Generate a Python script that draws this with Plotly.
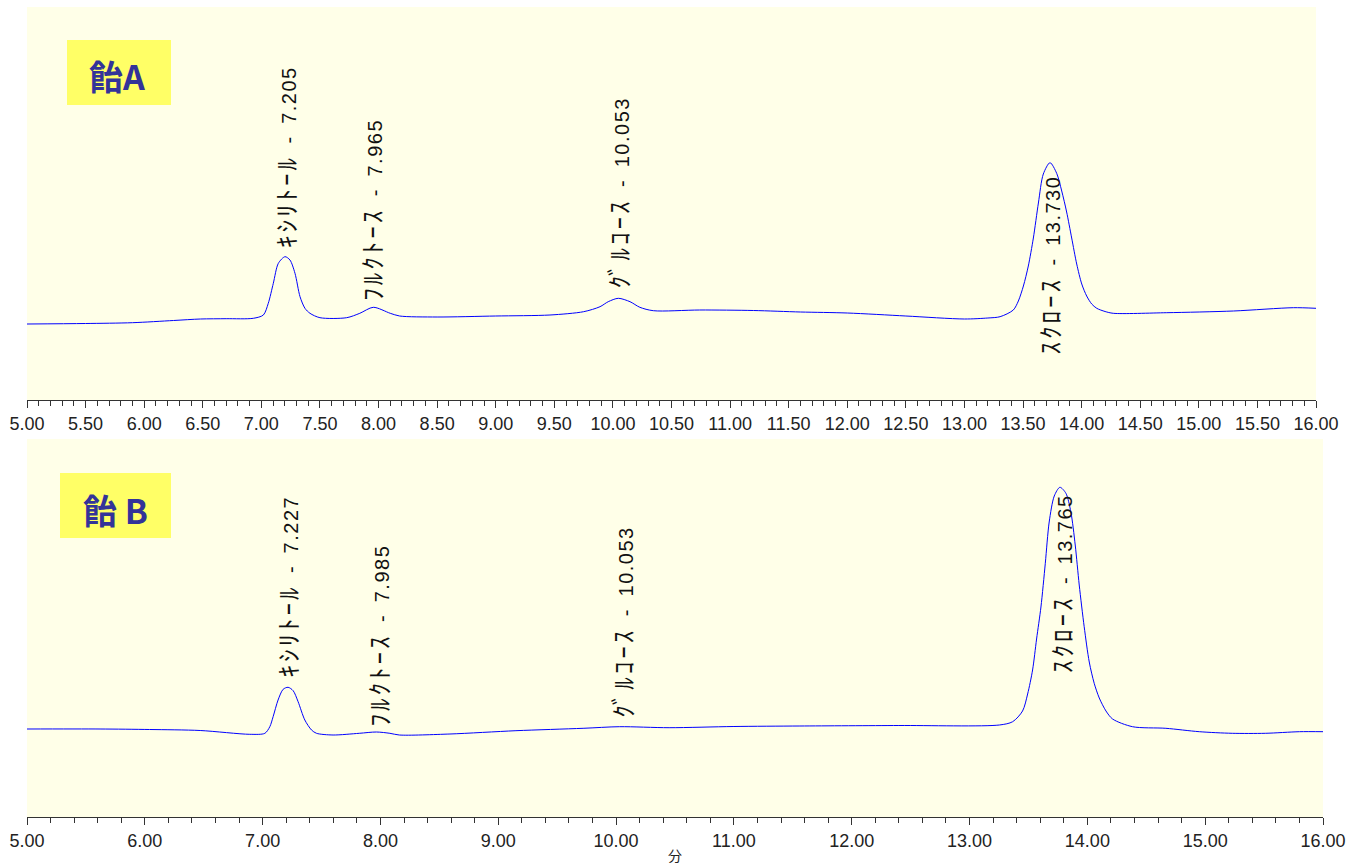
import plotly.graph_objects as go

# ---------------- data ----------------
# Chromatogram A: retention time (min) and detector signal (arbitrary units)
time_A = [5.00, 5.50, 5.90, 6.25, 6.48, 6.70, 6.931, 7.017, 7.059, 7.102, 7.145, 7.202,
          7.244, 7.287, 7.330, 7.372, 7.415, 7.50, 7.728, 7.84, 7.955, 8.10, 8.18,
          8.50, 9.00, 9.463, 9.75, 9.89, 9.96, 10.046, 10.146, 10.23, 10.345,
          10.74, 11.20, 11.60, 12.00, 12.50, 13.00, 13.20, 13.304, 13.417, 13.46,
          13.503, 13.545, 13.588, 13.631, 13.673, 13.730, 13.787, 13.830, 13.872,
          13.915, 13.958, 14.001, 14.043, 14.086, 14.129, 14.20, 14.27, 14.726,
          15.295, 15.807, 16.00]
signal_A = [76.0, 76.5, 77.3, 79.5, 81.0, 81.3, 81.7, 85.0, 96.7, 116.7, 136.7, 143.3,
            140.0, 126.7, 103.3, 91.7, 86.7, 82.3, 82.3, 86.7, 92.7, 86.7, 84.0,
            83.0, 84.0, 85.0, 88.3, 93.3, 98.3, 101.7, 98.3, 92.7, 89.3,
            90.0, 89.5, 88.0, 87.0, 84.0, 81.0, 82.0, 83.3, 90.0, 99.0,
            114.0, 134.0, 162.0, 197.0, 226.0, 237.3, 226.7, 209.0, 188.0,
            162.0, 136.0, 116.0, 104.0, 96.0, 91.7, 88.5, 86.7, 87.3,
            89.0, 92.3, 91.7]

# Chromatogram B
time_B = [5.00, 5.62, 6.04, 6.47, 6.891, 7.019, 7.061, 7.089, 7.131, 7.174, 7.216,
          7.259, 7.301, 7.358, 7.415, 7.457, 7.598, 7.82, 7.966, 8.08, 8.16, 8.59,
          9.15, 9.72, 10.03, 10.45, 11.00, 11.56, 12.40, 13.253, 13.366, 13.450,
          13.493, 13.535, 13.569, 13.606, 13.643, 13.676, 13.719, 13.767, 13.818,
          13.860, 13.897, 13.931, 13.973, 14.016, 14.058, 14.101, 14.158, 14.214,
          14.383, 14.666, 14.95, 15.23, 15.51, 15.80, 16.00]
signal_B = [88.0, 88.0, 87.5, 86.5, 82.7, 83.7, 90.3, 100.3, 117.0, 127.7, 129.7,
            126.3, 115.3, 97.0, 87.0, 83.7, 82.0, 83.7, 85.0, 83.7, 82.0, 83.0,
            86.3, 88.7, 90.3, 89.3, 90.5, 91.0, 91.5, 92.0, 95.3, 106.0,
            123.0, 147.0, 178.0, 210.0, 253.7, 295.0, 321.0, 329.7, 323.7,
            305.0, 272.0, 232.0, 190.3, 155.0, 133.7, 119.0, 106.0, 98.0,
            90.3, 88.7, 85.3, 83.7, 83.7, 85.3, 85.3]

peak_names = ["ｷｼﾘﾄｰﾙ", "ﾌﾙｸﾄｰｽ", "ｸﾞﾙｺｰｽ", "ｽｸﾛｰｽ"]
peak_rt_A = [7.205, 7.965, 10.053, 13.730]
peak_rt_B = [7.227, 7.985, 10.053, 13.765]
sample_names = ["飴A", "飴 B"]
x_title = "分"
major_ticks_A = [5.0 + 0.5 * i for i in range(23)]
major_ticks_B = [5.0 + 1.0 * i for i in range(12)]

# ---------------- layout helpers (positions, not data) ----------------
W, H = 1355, 864
def px(xp):
    return xp / W
def py(yp):
    return (H - yp) / H

label_bottom_A = [150, 97, 110, 43]     # where each rotated label starts (signal units)
label_x_A = [7.219, 7.95, 10.06, 13.73]
label_bottom_B = [137, 89, 97, 142]
label_x_B = [7.22, 8.0, 10.06, 13.79]

fig = go.Figure()
line_style = dict(color="#0000FF", width=1, shape="spline", smoothing=0.8)
fig.add_trace(go.Scatter(x=time_A, y=signal_A, mode="lines", line=line_style,
                         xaxis="x", yaxis="y", showlegend=False, hoverinfo="skip"))
fig.add_trace(go.Scatter(x=time_B, y=signal_B, mode="lines", line=line_style,
                         xaxis="x2", yaxis="y2", showlegend=False, hoverinfo="skip"))

tick_font = dict(family="Liberation Sans, Arial, sans-serif", size=18, color="#222222")
common_x = dict(range=[5, 16], showgrid=False, zeroline=False, showline=True,
                linecolor="#333333", linewidth=1, ticks="outside", ticklen=7,
                tickcolor="#333333", tickwidth=1, tickformat=".2f", tickfont=tick_font,
                fixedrange=True, automargin=False)
common_y = dict(showgrid=False, zeroline=False, showline=False, showticklabels=False,
                ticks="", fixedrange=True, automargin=False)

fig.update_layout(
    width=W, height=H,
    margin=dict(l=0, r=0, t=0, b=0, pad=0, autoexpand=False),
    paper_bgcolor="white",
    plot_bgcolor="#FFFFE8",
    xaxis=dict(common_x, domain=[px(27), px(1316)], anchor="y",
               tickvals=major_ticks_A,
               minor=dict(dtick=0.1, tick0=5, ticks="outside", ticklen=5,
                          tickcolor="#333333", showgrid=False)),
    yaxis=dict(common_y, domain=[py(400), py(7)], anchor="x", range=[0, 393]),
    xaxis2=dict(common_x, domain=[px(27), px(1323)], anchor="y2",
                tickvals=major_ticks_B,
                minor=dict(dtick=0.2, tick0=5, ticks="outside", ticklen=5,
                           tickcolor="#333333", showgrid=False)),
    yaxis2=dict(common_y, domain=[py(817), py(439)], anchor="x2", range=[0, 378]),
)

ann_font = dict(family="Liberation Sans, Noto Sans CJK JP, sans-serif", size=20, color="#111111")
annotations = []
for names, rts, xs, ys, xr, yr in [
    (peak_names, peak_rt_A, label_x_A, label_bottom_A, "x", "y"),
    (peak_names, peak_rt_B, label_x_B, label_bottom_B, "x2", "y2"),
]:
    for name, rt, xl, yl in zip(names, rts, xs, ys):
        annotations.append(dict(
            x=xl, y=yl, xref=xr, yref=yr,
            text=(f"<span style='font-size:25px;letter-spacing:3px'>{name}</span>"
                  f"<span style='letter-spacing:1.5px'>\u2002-\u2002{rt:.3f}</span>"),
            textangle=-90, showarrow=False, xanchor="center", yanchor="bottom",
            font=ann_font))

# sample name boxes
fig.add_shape(type="rect", xref="paper", yref="paper",
              x0=px(67), x1=px(171), y0=py(105), y1=py(40),
              fillcolor="#FFFF66", line=dict(width=0))
fig.add_shape(type="rect", xref="paper", yref="paper",
              x0=px(60), x1=px(171), y0=py(538), y1=py(473),
              fillcolor="#FFFF66", line=dict(width=0))
label_font = dict(family="Noto Sans CJK JP, sans-serif", size=34, color="#333399")
annotations.append(dict(x=px(117), y=py(76), xref="paper", yref="paper",
                        text=f"<b>{sample_names[0]}</b>", showarrow=False,
                        xanchor="center", yanchor="middle", font=label_font))
annotations.append(dict(x=px(115), y=py(509), xref="paper", yref="paper",
                        text=f"<b>{sample_names[1]}</b>", showarrow=False,
                        xanchor="center", yanchor="middle", font=label_font))
annotations.append(dict(x=px(675), y=py(855), xref="paper", yref="paper",
                        text=x_title, showarrow=False, xanchor="center", yanchor="middle",
                        font=dict(family="Noto Sans CJK JP, sans-serif", size=14, color="#222222")))

fig.update_layout(annotations=annotations)
fig.write_html(
    "out.html",
    config={"displayModeBar": False},
    post_script="document.body.style.margin='0';document.body.style.overflow='hidden';",
)
